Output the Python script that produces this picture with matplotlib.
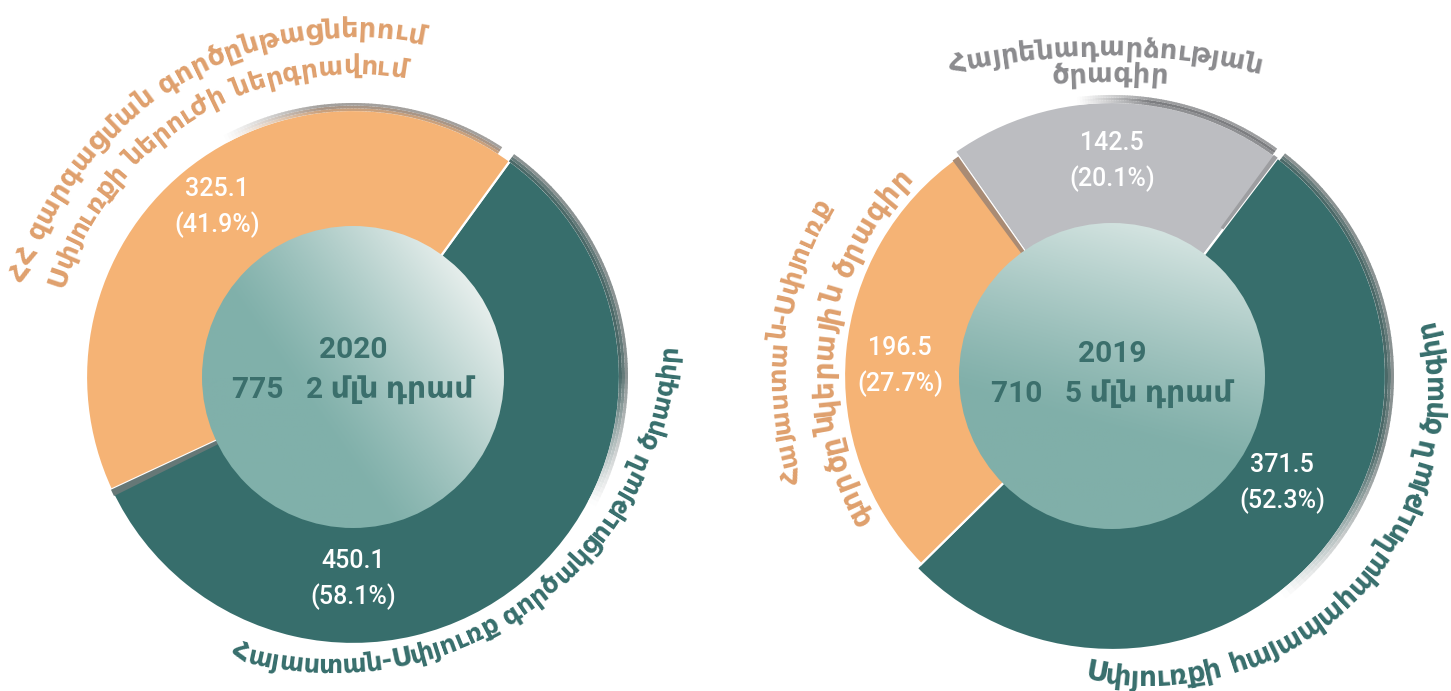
import numpy as np
import matplotlib.pyplot as plt
from matplotlib.patches import Circle, Wedge
from matplotlib.colors import LinearSegmentedColormap, to_rgb
from matplotlib.font_manager import FontProperties

# ---- data ----
year_2020 = '2020'
total_2020 = '775   2 մլն դրամ'
values_2020 = [450.1, 325.1]
shares_2020 = [58.1, 41.9]
names_2020 = [['Հայաստան-Սփյուռք գործակցության ծրագիր'],
              ['ՀՀ զարգացման գործընթացներում', 'Սփյուռքի ներուժի ներգրավում']]

year_2019 = '2019'
total_2019 = '710   5 մլն դրամ'
values_2019 = [142.5, 371.5, 196.5]
shares_2019 = [20.1, 52.3, 27.7]
names_2019 = [['Հայրենադարձության', 'ծրագիր'],
              ['Սփյուռքի հայապահպանության ծրագիր'],
              ['Հայաստան-Սփյուռք', 'գործընկերային ծրագիր']]

TEAL = '#376e6c'
ORANGE = '#f5b375'
GRAY = '#bcbdc1'
TXT_TEAL = '#376e6c'
TXT_ORANGE = '#dfa06d'
TXT_GRAY = '#8b8b8e'
ARC_FONT = ['DejaVu Sans']

W, H = 1451, 691
fig = plt.figure(figsize=(W / 100, H / 100), dpi=100)
ax = fig.add_axes([0, 0, 1, 1])
rend = fig.canvas.get_renderer()


def mix(c, a):
    c = np.array(to_rgb(c))
    return tuple(1 - a * (1 - c))


def bevel(center, r, t_fade, t_full, cols, w=9, n=80, fade=0.35):
    ts = np.linspace(t_fade, t_full, n + 1)
    k = len(cols)
    for i in range(n):
        a = min(1.0, (i + 0.5) / n / fade)
        lo, hi = min(ts[i], ts[i + 1]), max(ts[i], ts[i + 1])
        for j, c in enumerate(cols):
            r0 = r - 1 + w * j / k
            r1 = r - 1 + w * (j + 1) / k
            ax.add_patch(Wedge(center, r1, lo, hi + 0.15, width=r1 - r0,
                               fc=mix(c, a), ec='none', zorder=1.2))


def grad_disc(cx, cy, r, phi, c0, c1):
    xs = np.linspace(-1, 1, 300)
    X, Y = np.meshgrid(xs, xs)
    t = X * np.cos(np.radians(phi)) + Y * np.sin(np.radians(phi))
    t = np.clip((t + 0.35) / 1.35, 0, 1) ** 1.2
    cmap = LinearSegmentedColormap.from_list('g', [c0, c1])
    im = ax.imshow(t, cmap=cmap, vmin=0, vmax=1, origin='lower',
                   extent=(cx - r, cx + r, cy - r, cy + r), zorder=5)
    circ = Circle((cx, cy), r, fc='none', ec='none')
    ax.add_patch(circ)
    im.set_clip_path(circ)


def arc_text(s, cx, cy, r, mid, span, top, color):
    fp = FontProperties(family=ARC_FONT, weight='bold', size=20)
    ref = rend.get_text_width_height_descent('ա', fp, ismath=False)[0]
    pos = np.array([rend.get_text_width_height_descent(s[:i] + 'ա', fp, ismath=False)[0] - ref
                    for i in range(len(s) + 1)])
    k = np.radians(span) * r / pos[-1]
    fp.set_size(20 * k)
    pos = pos * k
    L = pos[-1]
    for i, ch in enumerate(s):
        if ch == ' ':
            continue
        sc = 0.5 * (pos[i] + pos[i + 1])
        d = np.degrees((L / 2 - sc) / r)
        th = mid + d if top else mid - d
        rot = th - 90 if top else th + 90
        ax.text(cx + r * np.cos(np.radians(th)), cy + r * np.sin(np.radians(th)), ch,
                fontproperties=fp, color=color, rotation=rot, rotation_mode='anchor',
                ha='center', va='baseline', zorder=8)


def donut(values, shares, colors, center, radius, start, explode,
          lab_ang, lab_r, r_in, grad, year, total, year_y, total_y):
    wedges, _ = ax.pie(values, colors=colors, startangle=start, counterclock=False,
                       radius=radius, center=center, explode=explode,
                       wedgeprops=dict(edgecolor='white', linewidth=1.6))
    cx, cy = center
    for v, s, a, rr in zip(values, shares, lab_ang, lab_r):
        x = cx + rr * np.cos(np.radians(a))
        y = cy + rr * np.sin(np.radians(a))
        ax.text(x, y + 18, f'{v:.1f}', ha='center', va='center', color='white',
                fontsize=18, family=['Roboto', 'DejaVu Sans'], fontweight='medium', zorder=6)
        ax.text(x, y - 18, f'({s:.1f}%)', ha='center', va='center', color='white',
                fontsize=18, family=['Roboto', 'DejaVu Sans'], fontweight='medium', zorder=6)
    grad_disc(cx, cy, r_in, *grad)
    ax.text(cx, year_y, year, ha='center', va='baseline', color='#3b6f6c',
            fontsize=21.5, family=['Roboto', 'DejaVu Sans'], fontweight='bold', zorder=7)
    ax.text(cx, total_y, total, ha='center', va='baseline', color='#3b6f6c',
            fontsize=21.5, family=['Roboto', 'DejaVu Sans'], fontweight='bold', zorder=7)
    return wedges


BEV_TEAL = ['#4b6968', '#647a79', '#8a9292']

# ---- 2020 (left) ----
w20 = donut(values_2020, shares_2020, [TEAL, ORANGE], (353, 314), 267, 54, [0, 0.022],
            [270, 128.7], [202, 218], 151, (35, '#80b0aa', '#e6eeec'),
            year_2020, total_2020, 333, 293)
bevel(w20[0].center, 267, -28, 54, BEV_TEAL)
bevel(w20[1].center, 267, 118, 57, ['#c9a07c', '#a99585', '#a3a09d'], w=8)
ax.add_patch(Wedge(w20[0].center, 267, w20[0].theta1, w20[0].theta1 + 1.5,
                   fc='#667877', ec='none', zorder=1.5))

arc_text(names_2020[0][0], 332, 363, 345, 305, 104.4, False, TXT_TEAL)
arc_text(names_2020[1][0], 353, 314, 340, 121, 86, True, TXT_ORANGE)
arc_text(names_2020[1][1], 353, 314, 303, 121.5, 83, True, TXT_ORANGE)

# ---- 2019 (right) ----
w19 = donut(values_2019, shares_2019, [GRAY, TEAL, ORANGE], (1112, 315), 274, 125, [0.03, 0, 0],
            [90, -32.2, 177.3], [215, 201, 212], 153, (75, '#80afa9', '#d3e3e0'),
            year_2019, total_2019, 329, 289)
w19[2].set_radius(268)
bevel(w19[0].center, 274, 97, 54, ['#8e8f92', '#7c7d80', '#9c9d9f'], w=8)
bevel(w19[1].center, 274, -52, 52, BEV_TEAL)
ax.add_patch(Wedge(w19[2].center, 268, w19[2].theta1, w19[2].theta1 + 1.5,
                   fc='#a98b74', ec='none', zorder=1.5))
ax.add_patch(Wedge(w19[0].center, 274, w19[0].theta1, w19[0].theta1 + 1.0, width=90,
                   fc='#9d9ea1', ec='none', zorder=1.5))

arc_text(names_2019[0][0], 1106, -65, 700, 90, 25.6, True, TXT_GRAY)
arc_text(names_2019[0][1], 1110, -65, 674, 90, 9.8, True, TXT_GRAY)
arc_text(names_2019[1][0], 1147, 300, 295, 316, 116.6, False, TXT_TEAL)
arc_text(names_2019[2][0], 1112, 315, 327, 173.8, 50, True, TXT_ORANGE)
arc_text(names_2019[2][1], 1112, 315, 280, 173, 76, True, TXT_ORANGE)

ax.set_xlim(0, W)
ax.set_ylim(0, H)
ax.set_aspect('auto')
ax.axis('off')
fig.savefig('out.png', dpi=100)
